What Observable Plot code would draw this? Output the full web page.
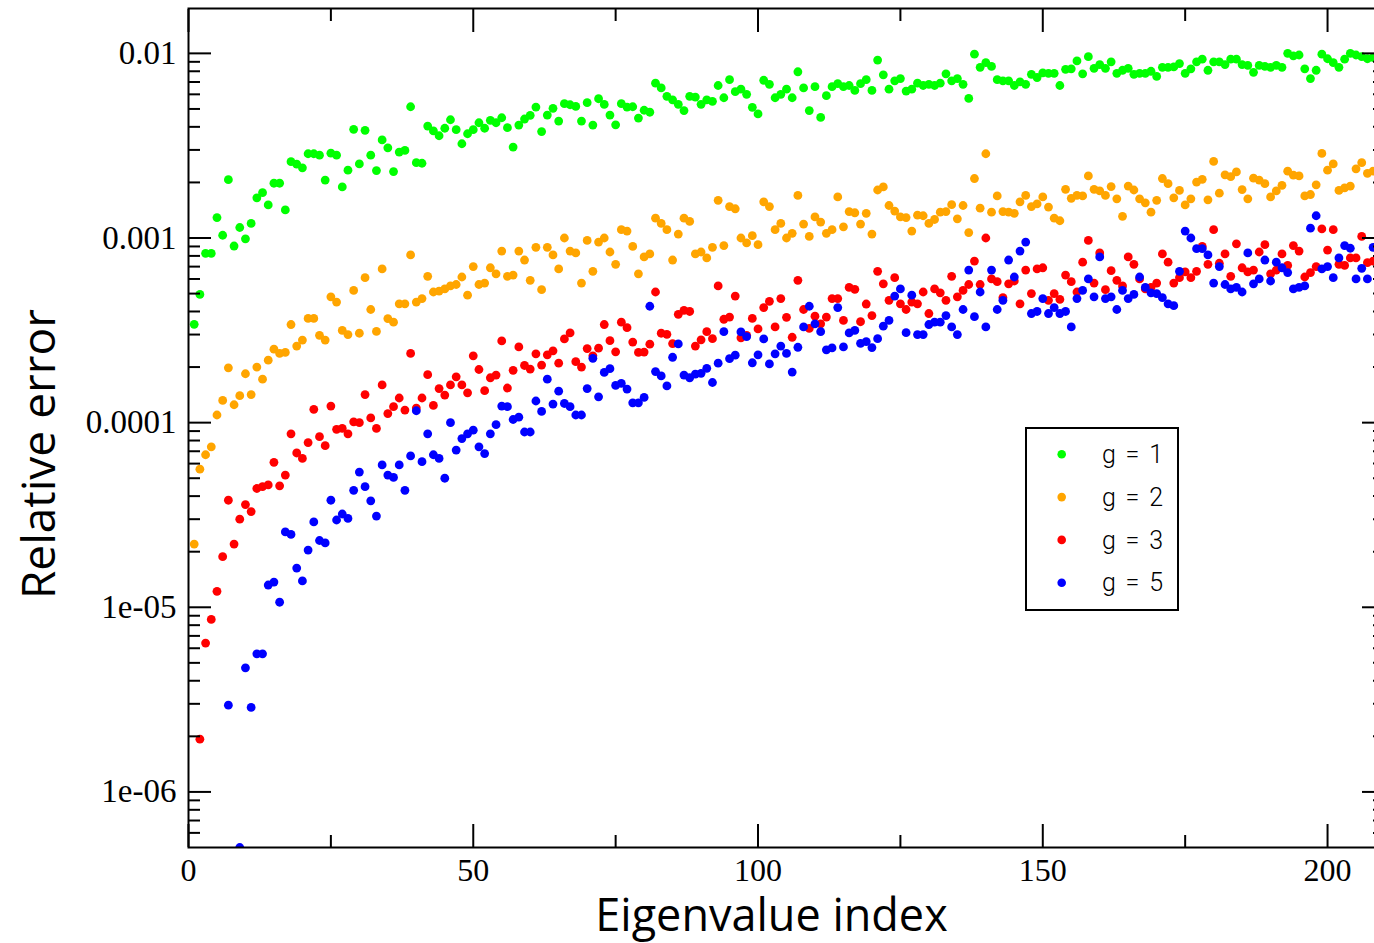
<!DOCTYPE html>
<html><head><meta charset="utf-8">
<script src="https://cdn.jsdelivr.net/npm/d3@7"></script>
<script src="https://cdn.jsdelivr.net/npm/@observablehq/plot@0.6"></script>
<style>
html,body{margin:0;padding:0;background:#fff;overflow:hidden;}
#wrap{position:relative;width:1374px;height:943px;overflow:hidden;}
#wrap > svg{max-width:none !important;}
#legend{position:absolute;left:1025px;top:427px;}
</style></head><body><div id="wrap"></div>
<script>
const seriesNames = ["g = 1", "g = 2", "g = 3", "g = 5"];
const seriesColors = ["#00ff00", "#ffa500", "#ff0000", "#0000ff"];

// Relative error per eigenvalue index 1..208 (null = below the visible range)
const g1 = [3.41e-4,4.95e-4,8.26e-4,8.25e-4,1.29e-3,1.035e-3,2.07e-3,9.05e-4,1.14e-3,9.9e-4,
1.2e-3,1.65e-3,1.76e-3,1.51e-3,1.98e-3,1.98e-3,1.42e-3,2.59e-3,2.51e-3,2.40e-3,
2.86e-3,2.86e-3,2.81e-3,2.06e-3,2.88e-3,2.81e-3,1.89e-3,2.33e-3,3.88e-3,2.52e-3,
3.83e-3,2.81e-3,2.32e-3,3.40e-3,3.08e-3,2.29e-3,2.92e-3,2.98e-3,5.14e-3,2.56e-3,
2.54e-3,4.04e-3,3.8e-3,3.58e-3,3.93e-3,4.37e-3,3.86e-3,3.24e-3,3.67e-3,3.86e-3,
4.21e-3,3.93e-3,4.34e-3,4.21e-3,4.48e-3,3.96e-3,3.11e-3,4.09e-3,4.41e-3,4.62e-3,
5.12e-3,3.77e-3,4.63e-3,5.04e-3,4.3e-3,5.34e-3,5.27e-3,5.16e-3,4.3e-3,5.41e-3,
4.09e-3,5.68e-3,5.29e-3,4.63e-3,4.1e-3,5.34e-3,5.12e-3,5.14e-3,4.46e-3,4.92e-3,
4.8e-3,6.9e-3,6.5e-3,5.85e-3,5.6e-3,5.3e-3,4.9e-3,5.85e-3,5.8e-3,5.3e-3,
5.6e-3,5.5e-3,6.7e-3,5.75e-3,7.2e-3,6.2e-3,6.4e-3,6.0e-3,5.1e-3,4.7e-3,
7.15e-3,6.8e-3,5.75e-3,6.0e-3,6.4e-3,5.75e-3,7.95e-3,6.5e-3,4.9e-3,6.6e-3,
4.5e-3,5.9e-3,6.6e-3,6.85e-3,6.6e-3,6.7e-3,6.3e-3,6.85e-3,7.2e-3,6.3e-3,
9.2e-3,7.65e-3,6.4e-3,7.1e-3,7.3e-3,6.25e-3,6.4e-3,6.9e-3,6.7e-3,6.8e-3,
6.7e-3,6.9e-3,7.75e-3,7.1e-3,7.3e-3,6.8e-3,5.7e-3,9.9e-3,8.4e-3,8.9e-3,
8.5e-3,7.2e-3,7.1e-3,7.1e-3,6.7e-3,7.0e-3,6.8e-3,7.7e-3,7.4e-3,7.85e-3,
7.8e-3,7.8e-3,6.7e-3,8.2e-3,8.25e-3,9.1e-3,7.75e-3,9.6e-3,8.3e-3,8.7e-3,
8.3e-3,9.0e-3,7.8e-3,8.1e-3,8.3e-3,7.7e-3,7.8e-3,7.8e-3,8.0e-3,7.5e-3,
8.4e-3,8.4e-3,8.45e-3,8.8e-3,7.8e-3,8.25e-3,9.0e-3,9.3e-3,8.1e-3,9.0e-3,
9.0e-3,8.7e-3,9.3e-3,9.3e-3,8.7e-3,8.6e-3,7.9e-3,8.6e-3,8.5e-3,8.4e-3,
8.6e-3,8.4e-3,1.0e-2,9.7e-3,9.8e-3,8.25e-3,7.3e-3,8.1e-3,9.9e-3,9.35e-3,
8.9e-3,8.4e-3,9.3e-3,1.0e-2,9.8e-3,9.6e-3,9.35e-3,9.5e-3];

const g2 = [2.2e-5,5.6e-5,6.7e-5,7.4e-5,1.1e-4,1.32e-4,1.98e-4,1.25e-4,1.4e-4,1.84e-4,
1.42e-4,2.0e-4,1.72e-4,2.18e-4,2.5e-4,2.37e-4,2.4e-4,3.4e-4,2.6e-4,2.8e-4,
3.67e-4,3.67e-4,2.97e-4,2.8e-4,4.8e-4,4.5e-4,3.16e-4,3.0e-4,5.2e-4,3.05e-4,
6.1e-4,4.1e-4,3.12e-4,6.8e-4,3.66e-4,3.5e-4,4.4e-4,4.4e-4,8.1e-4,4.5e-4,
4.7e-4,6.2e-4,5.1e-4,5.16e-4,5.3e-4,5.5e-4,5.6e-4,6.15e-4,4.9e-4,7.0e-4,
5.6e-4,5.7e-4,6.9e-4,6.4e-4,8.5e-4,6.2e-4,6.3e-4,8.5e-4,7.6e-4,5.9e-4,
8.9e-4,5.25e-4,8.9e-4,8.1e-4,6.8e-4,1.0e-3,8.5e-4,8.3e-4,5.7e-4,9.7e-4,
6.6e-4,9.5e-4,1.0e-3,8.4e-4,7.2e-4,1.11e-3,1.09e-3,9.0e-4,6.4e-4,7.9e-4,
8.2e-4,1.28e-3,1.2e-3,1.11e-3,7.6e-4,1.05e-3,1.28e-3,1.23e-3,8.2e-4,8.4e-4,
7.8e-4,8.9e-4,1.6e-3,9.1e-4,1.48e-3,1.44e-3,1.0e-3,9.4e-4,1.03e-3,9.2e-4,
1.57e-3,1.48e-3,1.11e-3,1.2e-3,1.0e-3,1.06e-3,1.7e-3,1.19e-3,1.02e-3,1.3e-3,
1.22e-3,1.06e-3,1.11e-3,1.67e-3,1.15e-3,1.39e-3,1.37e-3,1.19e-3,1.36e-3,1.05e-3,
1.82e-3,1.89e-3,1.5e-3,1.4e-3,1.3e-3,1.29e-3,1.09e-3,1.33e-3,1.32e-3,1.2e-3,
1.26e-3,1.38e-3,1.39e-3,1.515e-3,1.27e-3,1.5e-3,1.07e-3,2.1e-3,1.45e-3,2.86e-3,
1.38e-3,1.69e-3,1.39e-3,1.38e-3,1.36e-3,1.57e-3,1.7e-3,1.48e-3,1.53e-3,1.67e-3,
1.47e-3,1.28e-3,1.24e-3,1.835e-3,1.64e-3,1.7e-3,1.69e-3,2.17e-3,1.835e-3,1.8e-3,
1.7e-3,1.9e-3,1.63e-3,1.31e-3,1.91e-3,1.82e-3,1.63e-3,1.55e-3,1.38e-3,1.6e-3,
2.1e-3,1.97e-3,1.65e-3,1.81e-3,1.51e-3,1.63e-3,2.01e-3,2.08e-3,1.61e-3,2.6e-3,
1.75e-3,2.2e-3,2.15e-3,2.28e-3,1.83e-3,1.63e-3,2.11e-3,2.06e-3,1.97e-3,1.67e-3,
1.8e-3,1.93e-3,2.3e-3,2.19e-3,2.17e-3,1.69e-3,1.72e-3,1.94e-3,2.87e-3,2.33e-3,
2.52e-3,1.81e-3,1.87e-3,1.91e-3,2.37e-3,2.56e-3,2.24e-3,2.3e-3];

const g3 = [null,1.93e-6,6.4e-6,8.6e-6,1.22e-5,1.88e-5,3.8e-5,2.2e-5,3.0e-5,3.6e-5,
3.3e-5,4.4e-5,4.5e-5,4.6e-5,6.1e-5,4.55e-5,5.2e-5,8.7e-5,6.85e-5,6.4e-5,
7.8e-5,1.18e-4,8.4e-5,7.5e-5,1.23e-4,9.2e-5,9.3e-5,8.7e-5,1.01e-4,1.0e-4,
1.42e-4,1.06e-4,9.3e-5,1.6e-4,1.12e-4,1.22e-4,1.36e-4,1.17e-4,2.37e-4,1.2e-4,
1.36e-4,1.82e-4,1.24e-4,1.53e-4,1.41e-4,1.6e-4,1.77e-4,1.6e-4,1.45e-4,2.3e-4,
1.94e-4,1.49e-4,1.75e-4,1.81e-4,2.77e-4,1.54e-4,1.92e-4,2.57e-4,2.04e-4,1.95e-4,
2.36e-4,2.05e-4,2.33e-4,2.45e-4,2.1e-4,2.84e-4,3.06e-4,2.14e-4,2.0e-4,2.52e-4,
2.3e-4,2.53e-4,3.4e-4,2.78e-4,2.42e-4,3.5e-4,3.27e-4,2.73e-4,2.4e-4,2.41e-4,
2.66e-4,5.1e-4,3.05e-4,3.01e-4,2.68e-4,3.86e-4,4.06e-4,4.0e-4,2.6e-4,2.81e-4,
3.11e-4,2.85e-4,5.5e-4,3.63e-4,3.73e-4,4.85e-4,2.88e-4,2.97e-4,3.67e-4,3.22e-4,
4.2e-4,4.54e-4,3.3e-4,4.7e-4,3.72e-4,2.9e-4,5.9e-4,4.1e-4,3.24e-4,3.77e-4,
3.43e-4,3.73e-4,4.7e-4,4.7e-4,3.58e-4,5.4e-4,5.27e-4,3.52e-4,4.39e-4,3.8e-4,
6.6e-4,5.65e-4,4.6e-4,6.1e-4,4.4e-4,4.1e-4,4.5e-4,4.4e-4,5.1e-4,3.9e-4,
5.3e-4,5.05e-4,4.6e-4,6.2e-4,4.8e-4,5.2e-4,5.6e-4,7.5e-4,5.6e-4,1.0e-3,
6.0e-4,5.8e-4,4.75e-4,5.65e-4,5.85e-4,4.4e-4,6.7e-4,5.0e-4,6.8e-4,6.9e-4,
4.6e-4,5.0e-4,4.65e-4,6.3e-4,5.8e-4,5.1e-4,7.4e-4,9.7e-4,5.7e-4,8.3e-4,
5.25e-4,6.65e-4,5.9e-4,5.5e-4,7.9e-4,7.2e-4,6.0e-4,5.3e-4,5.4e-4,5.7e-4,
8.2e-4,7.4e-4,5.7e-4,6.1e-4,6.55e-4,6.1e-4,6.6e-4,9.0e-4,7.2e-4,1.11e-3,
7.3e-4,8.2e-4,6.2e-4,9.3e-4,6.9e-4,6.55e-4,6.7e-4,8.4e-4,9.2e-4,6.4e-4,
6.7e-4,8.2e-4,7.1e-4,9.1e-4,8.5e-4,6.15e-4,6.5e-4,7.0e-4,1.12e-3,8.6e-4,
1.11e-3,7.2e-4,7.1e-4,7.8e-4,7.8e-4,1.02e-3,7.35e-4,7.5e-4];

const g5 = [null,null,null,null,null,null,2.95e-6,null,5.0e-7,4.7e-6,
2.87e-6,5.6e-6,5.6e-6,1.32e-5,1.37e-5,1.065e-5,2.56e-5,2.48e-5,1.63e-5,1.39e-5,
2.04e-5,2.9e-5,2.3e-5,2.23e-5,3.8e-5,2.97e-5,3.2e-5,3.03e-5,4.3e-5,5.4e-5,
4.5e-5,3.77e-5,3.12e-5,5.9e-5,5.2e-5,5.05e-5,5.9e-5,4.3e-5,6.6e-5,1.16e-4,
6.15e-5,8.7e-5,6.7e-5,6.4e-5,5.0e-5,1.0e-4,7.1e-5,8.2e-5,8.7e-5,9.1e-5,
7.4e-5,6.8e-5,8.7e-5,9.75e-5,1.23e-4,1.22e-4,1.04e-4,1.07e-4,8.9e-5,8.9e-5,
1.31e-4,1.15e-4,1.72e-4,1.26e-4,1.48e-4,1.27e-4,1.22e-4,1.1e-4,1.1e-4,1.53e-4,
2.23e-4,1.38e-4,1.87e-4,1.96e-4,1.59e-4,1.63e-4,1.52e-4,1.28e-4,1.28e-4,1.37e-4,
4.27e-4,1.89e-4,1.79e-4,1.58e-4,2.26e-4,2.67e-4,1.81e-4,1.75e-4,1.83e-4,1.85e-4,
1.97e-4,1.65e-4,2.1e-4,3.11e-4,2.22e-4,2.32e-4,3.1e-4,2.92e-4,2.11e-4,2.33e-4,
2.84e-4,2.08e-4,2.36e-4,2.6e-4,2.37e-4,1.88e-4,2.56e-4,3.3e-4,4.27e-4,3.43e-4,
3.11e-4,2.48e-4,2.54e-4,4.2e-4,2.57e-4,3.06e-4,3.16e-4,2.69e-4,2.75e-4,2.55e-4,
2.85e-4,3.33e-4,3.58e-4,4.85e-4,5.3e-4,3.07e-4,4.9e-4,3.0e-4,3.0e-4,3.4e-4,
3.5e-4,3.5e-4,3.8e-4,3.3e-4,3.0e-4,4.1e-4,6.7e-4,3.75e-4,5.1e-4,3.3e-4,
6.7e-4,4.1e-4,4.6e-4,7.6e-4,6.15e-4,8.5e-4,9.5e-4,3.9e-4,4.0e-4,4.7e-4,
3.9e-4,4.2e-4,3.9e-4,4.0e-4,3.3e-4,4.7e-4,5.2e-4,6.0e-4,4.8e-4,7.9e-4,
4.7e-4,4.8e-4,4.1e-4,5.2e-4,4.7e-4,4.95e-4,6.15e-4,5.4e-4,5.05e-4,5.0e-4,
4.75e-4,4.4e-4,4.3e-4,6.6e-4,1.09e-3,1.0e-3,8.75e-4,8.75e-4,8.1e-4,5.7e-4,
7.0e-4,5.6e-4,5.3e-4,5.4e-4,5.1e-4,8.3e-4,5.65e-4,6.0e-4,7.6e-4,5.85e-4,
7.4e-4,6.9e-4,6.5e-4,5.3e-4,5.4e-4,5.5e-4,1.13e-3,1.32e-3,6.8e-4,7.0e-4,
6.1e-4,7.8e-4,9.1e-4,8.8e-4,6.0e-4,6.85e-4,6.0e-4,8.9e-4];

const xTicksMajor = [0, 50, 100, 150, 200];
const xTickLabels = ["0", "50", "100", "150", "200"];
const xTicksMinor = [25, 75, 125, 175];
const yTicksMajor = [1e-6, 1e-5, 1e-4, 1e-3, 1e-2];
const yTickLabels = ["1e-06", "1e-05", "0.0001", "0.001", "0.01"];
const xTitle = "Eigenvalue index";
const yTitle = "Relative error";

const yDomain = [5e-7, 0.0175];
const yTicksMinor = [];
for (let e = -7; e <= -2; e++) for (let m = 2; m <= 9; m++) {
  const v = m * Math.pow(10, e);
  if (v > yDomain[0] * 1.001 && v < yDomain[1]) yTicksMinor.push(v);
}

const rows = [];
[g1, g2, g3, g5].forEach((arr, s) => arr.forEach((v, k) => {
  if (v != null) rows.push({index: k + 1, err: v, g: seriesNames[s]});
}));

const serif = "Liberation Serif, Times New Roman, serif";
const sans = "Open Sans, Noto Sans, sans-serif";
const tickStyle = {fill: "none", label: null, stroke: "black", strokeWidth: 2};

const chart = Plot.plot({
  width: 1400, height: 943,
  marginLeft: 188, marginRight: 16, marginTop: 8, marginBottom: 96,
  x: {domain: [0, 210], axis: null},
  y: {type: "log", domain: yDomain, axis: null},
  color: {domain: seriesNames, range: seriesColors},
  style: {background: "white", fontFamily: serif, color: "black", maxWidth: "none"},
  marks: [
    Plot.dot(rows, {x: "index", y: "err", fill: "g", r: 4.4, clip: true}),
    Plot.frame({stroke: "black", strokeWidth: 2}),
    Plot.axisY(yTicksMajor, {anchor: "left", tickSize: -23, ...tickStyle}),
    Plot.axisY(yTicksMinor, {anchor: "left", tickSize: -12, ...tickStyle}),
    Plot.axisY(yTicksMajor, {anchor: "right", tickSize: -23, ...tickStyle}),
    Plot.axisY(yTicksMinor, {anchor: "right", tickSize: -12, ...tickStyle}),
    Plot.axisX(xTicksMajor, {anchor: "bottom", tickSize: -23, ...tickStyle}),
    Plot.axisX(xTicksMinor, {anchor: "bottom", tickSize: -12, ...tickStyle}),
    Plot.axisX(xTicksMajor, {anchor: "top", tickSize: -23, ...tickStyle}),
    Plot.axisX(xTicksMinor, {anchor: "top", tickSize: -12, ...tickStyle}),
    Plot.axisY(yTicksMajor, {anchor: "left", tickSize: 0, tickPadding: 12, label: null,
      fontSize: 33, fontFamily: serif, fill: "black",
      tickFormat: d => yTickLabels[yTicksMajor.indexOf(d)]}),
    Plot.axisX(xTicksMajor, {anchor: "bottom", tickSize: 0, tickPadding: 11, label: null,
      fontSize: 32, fontFamily: serif, fill: "black",
      tickFormat: d => xTickLabels[xTicksMajor.indexOf(d)]}),
    Plot.text([xTitle], {text: d => d, frameAnchor: "bottom", textAnchor: "middle", lineAnchor: "middle",
      dx: -15, dy: 69, fontSize: 45, fontFamily: sans, fill: "black"}),
    Plot.text([yTitle], {text: d => d, frameAnchor: "left", textAnchor: "middle", lineAnchor: "middle",
      rotate: -90, dx: -148, dy: 26, fontSize: 46, fontFamily: sans, fill: "black"})
  ]
});
chart.style.maxWidth = "none";
const wrap = document.getElementById("wrap");
wrap.appendChild(chart);

// Legend box (inside the plot area, as in the original)
const lg = d3.select(wrap).append("svg").attr("id", "legend")
  .attr("width", 156).attr("height", 186);
lg.append("rect").attr("x", 1).attr("y", 1).attr("width", 152).attr("height", 182)
  .attr("fill", "white").attr("stroke", "black").attr("stroke-width", 2);
seriesNames.forEach((name, k) => {
  const cy = 27.3 + k * 42.8;
  lg.append("circle").attr("cx", 36.7).attr("cy", cy).attr("r", 4.3).attr("fill", seriesColors[k]);
  lg.append("text").attr("x", 77).attr("y", cy + 8.7).attr("font-family", "Roboto, sans-serif")
    .attr("font-weight", 300).attr("font-size", 25).attr("fill", "black")
    .attr("textLength", 61).attr("lengthAdjust", "spacing").text(name);
});
</script></body></html>
